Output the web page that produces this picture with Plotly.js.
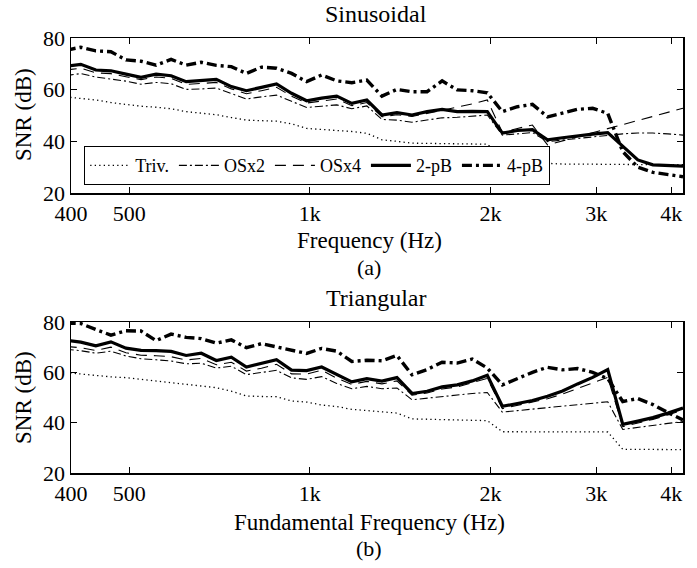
<!DOCTYPE html>
<html>
<head>
<meta charset="utf-8">
<script src="https://cdn.plot.ly/plotly-3.0.1.min.js"></script>
<style>html,body{margin:0;padding:0;background:#fff;} #chart{width:697px;height:568px;}</style>
</head>
<body>
<div id="chart"></div>
<script>
// Note frequencies (Hz)
var freqs = [392.0, 415.3, 440.0, 466.2, 493.9, 523.3, 554.4, 587.3, 622.3, 659.3, 698.5, 740.0, 784.0, 830.6, 880.0, 932.3, 987.8, 1046.5, 1108.7, 1174.7, 1244.5, 1318.5, 1396.9, 1480.0, 1568.0, 1661.2, 1760.0, 1864.7, 1975.5, 2093.0, 2217.5, 2349.3, 2489.0, 2637.0, 2793.8, 2960.0, 3136.0, 3322.4, 3520.0, 3729.3, 3951.1, 4186.0];

// (a) Sinusoidal SNR (dB)
var sinTriv = [57.2, 56.6, 56.0, 55.0, 54.3, 53.6, 53.2, 52.6, 51.5, 50.8, 50.3, 49.2, 48.2, 48.0, 47.8, 46.8, 45.0, 44.6, 44.3, 43.8, 43.1, 40.6, 40.0, 39.3, 39.2, 39.1, 39.0, 38.9, 38.9, 34.0, 33.5, 33.0, 31.5, 31.2, 31.2, 31.1, 31.1, 31.1, 31.0, 31.0, 31.0, 31.0];
var sinOSx2 = [65.5, 66.2, 64.9, 64.0, 63.3, 62.1, 62.8, 62.3, 60.1, 60.3, 60.6, 58.5, 56.4, 57.2, 57.9, 55.5, 53.1, 53.6, 54.1, 52.6, 53.7, 48.5, 48.2, 47.4, 48.2, 49.1, 49.3, 49.8, 50.2, 42.4, 43.0, 43.4, 39.9, 40.5, 41.1, 41.7, 42.4, 42.9, 43.2, 43.2, 42.9, 42.4];
var sinOSx4 = [67.6, 68.3, 66.5, 66.2, 65.0, 63.9, 64.9, 64.4, 62.0, 62.3, 62.8, 60.3, 58.4, 59.6, 60.9, 57.5, 54.8, 55.6, 56.4, 53.8, 55.0, 49.5, 50.3, 49.6, 50.8, 52.2, 53.2, 54.5, 56.0, 43.5, 45.0, 46.3, 38.6, 40.2, 41.8, 43.4, 45.0, 46.6, 48.3, 49.8, 51.3, 52.8];
var sin2pB = [69.0, 69.8, 67.6, 67.3, 66.0, 64.8, 66.0, 65.4, 63.1, 63.4, 64.0, 61.2, 59.6, 60.9, 62.2, 58.6, 55.7, 56.7, 57.5, 54.7, 56.0, 50.2, 51.1, 50.2, 51.5, 52.4, 51.5, 51.6, 51.5, 43.2, 44.2, 44.5, 40.6, 41.4, 42.2, 42.8, 43.4, 38.0, 32.8, 30.9, 30.5, 30.4];
var sin4pB = [75.3, 76.4, 75.0, 74.7, 71.5, 71.0, 69.5, 71.7, 69.5, 70.6, 69.4, 68.9, 66.3, 68.7, 68.3, 66.3, 63.1, 65.7, 63.4, 62.7, 63.7, 57.5, 60.1, 59.2, 59.2, 63.4, 59.9, 59.6, 58.8, 51.5, 53.4, 54.3, 49.5, 51.1, 52.4, 52.8, 50.8, 36.0, 30.0, 28.0, 27.1, 26.3];

// (b) Triangular SNR (dB)
var triTriv = [59.9, 59.3, 58.7, 58.2, 57.9, 57.2, 56.6, 55.7, 55.2, 54.5, 53.9, 52.5, 50.6, 50.4, 50.3, 48.6, 48.2, 47.0, 46.4, 45.3, 44.8, 44.2, 43.8, 41.5, 41.3, 41.2, 41.2, 41.0, 40.8, 36.4, 36.4, 36.3, 36.3, 36.3, 36.3, 36.3, 36.3, 29.4, 29.4, 29.3, 29.3, 29.3];
var triOSx2 = [69.2, 68.6, 67.6, 68.4, 66.5, 65.4, 65.0, 64.5, 63.4, 63.6, 61.7, 62.4, 59.1, 59.9, 60.8, 57.8, 57.2, 58.3, 55.6, 53.5, 54.4, 53.5, 53.8, 49.1, 49.8, 50.5, 51.0, 51.6, 52.0, 44.2, 44.8, 45.4, 46.0, 46.6, 47.2, 47.8, 48.3, 37.3, 38.2, 39.0, 39.7, 40.4];
var triOSx4 = [70.3, 69.8, 68.7, 70.0, 67.8, 66.8, 66.6, 66.2, 64.9, 65.5, 63.0, 64.0, 60.5, 61.6, 63.2, 59.4, 59.3, 60.8, 57.7, 55.2, 56.4, 55.4, 56.6, 50.9, 51.8, 53.4, 54.2, 55.8, 57.6, 45.6, 46.8, 48.0, 49.5, 51.4, 53.6, 55.9, 58.0, 38.4, 39.8, 41.3, 43.1, 45.0];
var tri2pB = [72.8, 72.0, 70.5, 72.1, 69.6, 68.7, 68.6, 68.3, 66.7, 67.6, 64.7, 66.0, 62.1, 63.4, 65.0, 60.9, 60.7, 62.1, 59.0, 56.2, 57.5, 56.5, 57.9, 51.6, 52.5, 54.2, 55.0, 56.6, 58.8, 46.5, 47.6, 48.8, 50.5, 52.6, 55.4, 58.0, 61.1, 39.3, 40.6, 42.0, 43.8, 45.8];
var tri4pB = [79.6, 79.4, 77.0, 74.8, 76.5, 76.4, 72.6, 75.2, 73.9, 73.4, 71.6, 72.9, 69.8, 71.4, 70.1, 68.9, 67.5, 69.5, 68.4, 64.3, 64.8, 64.6, 66.7, 59.0, 61.1, 64.0, 63.7, 65.3, 61.7, 55.0, 57.5, 60.0, 62.0, 61.0, 61.5, 60.0, 57.5, 48.4, 49.6, 47.2, 44.0, 41.1];

var seriesNames = ['Triv.', 'OSx2', 'OSx4', '2-pB', '4-pB'];
var xTickVals = [400, 500, 1000, 2000, 3000, 4000];
var xTickText = ['400', '500', '1k', '2k', '3k', '4k'];
var yTickVals = [20, 40, 60, 80];

var FONT = '"Liberation Serif", "Times New Roman", Times, serif';
var styles = [
  {color:'#000', width:1.3, dash:'1.3px,3.2px'},
  {color:'#000', width:1.1, dash:'8px,3px,2px,3px'},
  {color:'#000', width:1.1, dash:'11px,7px'},
  {color:'#000', width:3.2, dash:'solid'},
  {color:'#000', width:3.4, dash:'10px,4px,3px,4px'}
];

var sinData = [sinTriv, sinOSx2, sinOSx4, sin2pB, sin4pB];
var triData = [triTriv, triOSx2, triOSx4, tri2pB, tri4pB];
var traces = [];
sinData.forEach(function(d, i){
  traces.push({x:freqs, y:d, xaxis:'x', yaxis:'y', mode:'lines', name:seriesNames[i], line:styles[i], showlegend:true, hoverinfo:'skip'});
});
triData.forEach(function(d, i){
  traces.push({x:freqs, y:d, xaxis:'x2', yaxis:'y2', mode:'lines', name:seriesNames[i], line:styles[i], showlegend:false, hoverinfo:'skip'});
});

function xax(){
  return {type:'log', range:[Math.log10(400), Math.log10(4186)], domain:[71/697, 683/697],
    tickmode:'array', tickvals:xTickVals, ticktext:xTickText, ticks:'inside', ticklen:6, tickwidth:1, tickcolor:'#000',
    showline:true, linecolor:'#000', linewidth:1.5, mirror:'ticks', showgrid:false, zeroline:false,
    tickfont:{family:FONT, size:22, color:'#000'}, fixedrange:true};
}
function yax(dom){
  return {range:[20, 80], domain:dom, tickmode:'array', tickvals:yTickVals, ticks:'inside', ticklen:6, tickwidth:1, tickcolor:'#000',
    showline:true, linecolor:'#000', linewidth:1.5, mirror:'ticks', showgrid:false, zeroline:false,
    tickfont:{family:FONT, size:22, color:'#000'}, fixedrange:true};
}
function py(p){ return 1 - p/568; }
function px(p){ return p/697; }
function ann(text, x, y, size, rot){
  return {text:text, xref:'paper', yref:'paper', x:px(x), y:py(y), xanchor:'center', yanchor:'middle', showarrow:false,
    font:{family:FONT, size:size, color:'#000'}, textangle:rot||0};
}

var layout = {
  width:697, height:568, margin:{l:0, r:0, t:0, b:0}, paper_bgcolor:'#fff', plot_bgcolor:'#fff',
  font:{family:FONT, color:'#000'},
  xaxis: Object.assign(xax(), {anchor:'y'}),
  yaxis: Object.assign(yax([1-193/568, 1-38/568]), {anchor:'x'}),
  xaxis2: Object.assign(xax(), {anchor:'y2'}),
  yaxis2: Object.assign(yax([1-473/568, 1-322/568]), {anchor:'x2'}),
  showlegend:true,
  legend:{orientation:'h', x:px(84), y:py(146), xanchor:'left', yanchor:'top', bgcolor:'#fff', bordercolor:'#000', borderwidth:1.2,
    font:{family:FONT, size:18, color:'#000'}, tracegroupgap:0, itemwidth:40},
  annotations:[
    ann('Sinusoidal', 376, 14, 24),
    ann('Frequency (Hz)', 369, 241, 23),
    ann('(a)', 369, 267, 22),
    ann('SNR (dB)', 23, 115, 23, -90),
    ann('Triangular', 376, 298, 24),
    ann('Fundamental Frequency (Hz)', 369, 522, 23),
    ann('(b)', 369, 548, 22),
    ann('SNR (dB)', 23, 398, 23, -90)
  ]
};

Plotly.newPlot('chart', traces, layout, {staticPlot:true, displayModeBar:false});
</script>
</body>
</html>
